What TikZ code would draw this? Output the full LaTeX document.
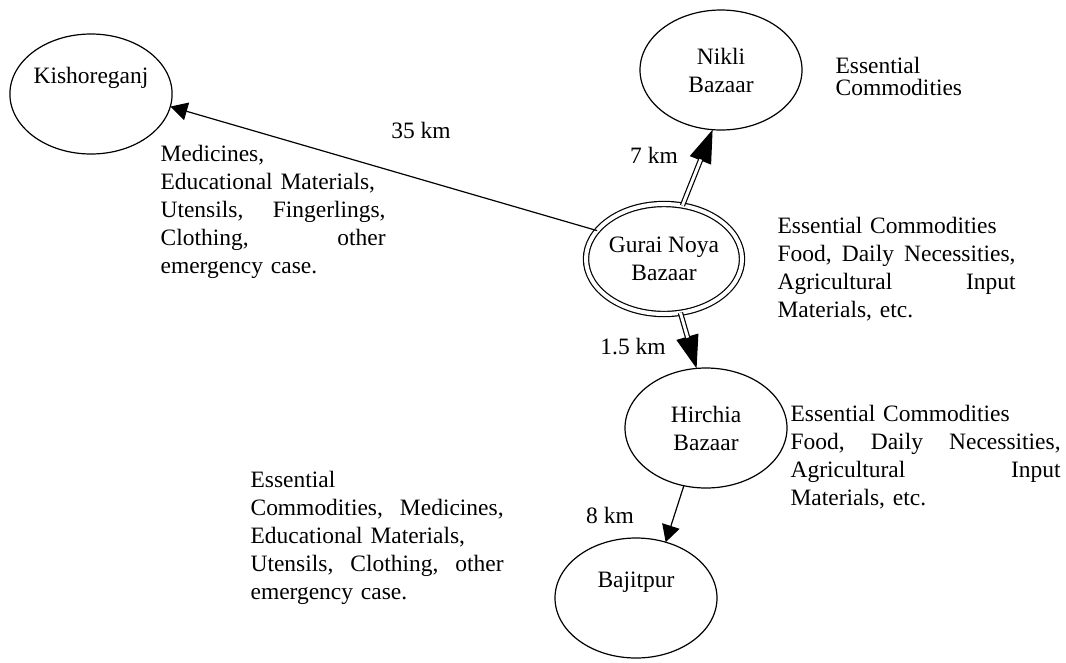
\documentclass[tikz,border=0pt]{standalone}
\usepackage{fontspec}
\setmainfont{Liberation Serif}
\usetikzlibrary{arrows.meta,shapes.geometric}
\setlength{\parindent}{0pt}
\tolerance=10000
\hyphenpenalty=10000

\begin{document}
\begin{tikzpicture}[x=0.75pt, y=-0.75pt, line width=0.9pt,
    font=\fontsize{17.6pt}{21pt}\selectfont,
    market/.style={ellipse, draw, minimum width=121.5pt, minimum height=90pt,
      inner sep=0pt, outer sep=0pt, align=center},
    goods/.style={anchor=base west, inner sep=0pt, align=left},
    dist/.style={inner sep=0pt},
    road/.style={-{Triangle[length=12.75pt, width=13.5pt]}},
    bigroad/.style={-{Triangle[length=24.75pt, width=17pt]}},
    dbl/.style={double, double distance=2.2pt, shorten >=24pt}]
    \useasboundingbox (0,0) rectangle (1066,662);

    \node[market, double, double distance=3pt, minimum width=117pt,
      minimum height=82.5pt] (gurai) at (664,259) {Gurai Noya\\Bazaar};
    \node[market] (kishor) at (91,94) {Kishoreganj\\\strut};
    \node[market] (nikli) at (721,70) {Nikli\\Bazaar};
    \node[market] (hirchia) at (706,428) {Hirchia\\Bazaar};
    \node[market] (bajitpur) at (636,598) {Bajitpur\\\strut};

    \draw[road] (gurai.157) -- (kishor.351);
    \draw[bigroad] (gurai.71) -- (nikli.262);
    \draw[dbl] (gurai.71) -- (nikli.262);
    \draw[bigroad] (gurai.287) -- (hirchia.99);
    \draw[dbl] (gurai.287) -- (hirchia.99);
    \draw[road] (hirchia.249) -- (bajitpur.62);

    \node[dist] (d35) at (421,130) {35 km};
    \node[dist] (d7) at (654,155) {7 km};
    \node[dist] (d15) at (633,347) {1.5 km};
    \node[dist] (d8) at (610,515) {8 km};

    \node[goods, text width=130pt, font=\fontsize{17.6pt}{16.5pt}\selectfont]
      (niklitext) at (835,73) {Essential\\Commodities};
    \node[goods, text width=168.75pt] (kishortext) at (160,161)
      {Medicines,\\ Educational Materials,\\ Utensils,\hfill Fingerlings,\\
       Clothing,\hfill other\\ emergency case.};
    \node[goods, text width=178.5pt] (guraitext) at (777,233)
      {Essential Commodities\\ Food,\hfill Daily\hfill Necessities,\\
       Agricultural\hfill Input\\ Materials, etc.};
    \node[goods, text width=202.5pt] (hirchiatext) at (790,421)
      {Essential Commodities\\ Food,\hfill Daily\hfill Necessities,\\
       Agricultural\hfill Input\\ Materials, etc.};
    \node[goods, text width=189.75pt] (bajitpurtext) at (250,487)
      {Essential\\ Commodities,\hfill Medicines,\\ Educational Materials,\\
       Utensils,\hfill Clothing,\hfill other\\ emergency case.};
\end{tikzpicture}
\end{document}
